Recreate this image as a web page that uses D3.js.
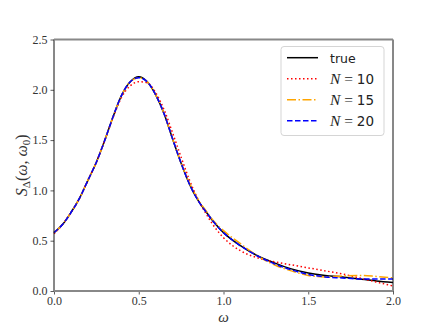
<!DOCTYPE html>
<html>
<head>
<meta charset="utf-8">
<script src="https://cdn.jsdelivr.net/npm/d3@7"></script>
<style>
  body { margin: 0; background: #fff; }
</style>
</head>
<body>
<div id="chart"></div>
<script>
const omega = [0, 0.05, 0.1, 0.15, 0.2, 0.25, 0.3, 0.35, 0.4, 0.45, 0.5, 0.55, 0.6, 0.65, 0.7, 0.75, 0.8, 0.85, 0.9, 0.95,
               1.0, 1.1, 1.2, 1.3, 1.4, 1.5, 1.6, 1.7, 1.8, 1.9, 2.0];
const trueVals = [0.58, 0.66, 0.78, 0.92, 1.10, 1.28, 1.50, 1.74, 1.95, 2.08, 2.13, 2.08, 1.95, 1.76, 1.51, 1.27, 1.06, 0.90, 0.78, 0.67,
                  0.58, 0.45, 0.35, 0.28, 0.22, 0.18, 0.155, 0.14, 0.12, 0.10, 0.085];
const n10Vals = [0.57, 0.66, 0.78, 0.92, 1.10, 1.28, 1.50, 1.73, 1.93, 2.04, 2.08, 2.07, 1.97, 1.80, 1.57, 1.33, 1.10, 0.91, 0.76, 0.63,
                 0.53, 0.40, 0.33, 0.29, 0.26, 0.23, 0.20, 0.17, 0.13, 0.09, 0.05];
const n15Vals = [0.58, 0.66, 0.78, 0.92, 1.10, 1.28, 1.50, 1.74, 1.95, 2.08, 2.12, 2.08, 1.95, 1.76, 1.51, 1.27, 1.07, 0.91, 0.79, 0.68,
                 0.60, 0.47, 0.35, 0.26, 0.20, 0.155, 0.14, 0.15, 0.155, 0.145, 0.13];
const n20Vals = [0.58, 0.66, 0.78, 0.92, 1.10, 1.28, 1.50, 1.74, 1.95, 2.08, 2.12, 2.08, 1.95, 1.76, 1.51, 1.27, 1.06, 0.90, 0.78, 0.67,
                 0.58, 0.45, 0.35, 0.27, 0.21, 0.165, 0.14, 0.13, 0.12, 0.12, 0.12];
const xTicks = [0.0, 0.5, 1.0, 1.5, 2.0];
const yTicks = [0.0, 0.5, 1.0, 1.5, 2.0, 2.5];
const seriesNames = ['true', '10', '15', '20'];

(() => {
    const width = 436, height = 327;
    const mLeft = 54, mRight = 393, mTop = 39.5, mBottom = 291;
    const serif = 'Liberation Serif, DejaVu Serif, serif';

    const svg = d3.select('#chart').append('svg')
        .attr('width', width)
        .attr('height', height);

    const x = d3.scaleLinear().domain([0, 2]).range([mLeft, mRight]);
    const y = d3.scaleLinear().domain([0, 2.5]).range([mBottom, mTop]);

    const series = [
        { name: seriesNames[0], vals: trueVals, color: '#000000', dash: null },
        { name: seriesNames[1], vals: n10Vals, color: '#ff0000', dash: '1.5,2.5' },
        { name: seriesNames[2], vals: n15Vals, color: '#ffa500', dash: '9,2.5,1.5,2.5' },
        { name: seriesNames[3], vals: n20Vals, color: '#0000ff', dash: '5.5,2.5' }
    ];

    const line = d3.line()
        .x(d => x(d[0]))
        .y(d => y(d[1]))
        .curve(d3.curveMonotoneX);

    const plot = svg.append('g');
    series.forEach(s => {
        plot.append('path')
            .datum(omega.map((w, i) => [w, s.vals[i]]))
            .attr('d', line)
            .attr('fill', 'none')
            .attr('stroke', s.color)
            .attr('stroke-width', 1.5)
            .attr('stroke-dasharray', s.dash);
    });

    // axes
    const xAxis = svg.append('g')
        .attr('transform', `translate(0,${mBottom})`)
        .call(d3.axisBottom(x).tickValues(xTicks).tickFormat(d3.format('.1f')).tickSize(3.5).tickPadding(2));
    const yAxis = svg.append('g')
        .attr('transform', `translate(${mLeft},0)`)
        .call(d3.axisLeft(y).tickValues(yTicks).tickFormat(d3.format('.1f')).tickSize(3.5).tickPadding(3));
    [xAxis, yAxis].forEach(a => {
        a.attr('font-family', serif).attr('font-size', 12);
        a.select('.domain').remove();
        a.selectAll('.tick line').attr('stroke', '#333').attr('stroke-width', 0.8);
        a.selectAll('.tick text').attr('fill', '#333');
    });

    // spines
    svg.append('line').attr('x1', mLeft).attr('x2', mLeft).attr('y1', mTop).attr('y2', mBottom)
        .attr('stroke', '#111').attr('stroke-width', 1);
    svg.append('line').attr('x1', mRight).attr('x2', mRight).attr('y1', mTop).attr('y2', mBottom)
        .attr('stroke', '#111').attr('stroke-width', 1);
    svg.append('line').attr('x1', mLeft).attr('x2', mRight).attr('y1', mTop).attr('y2', mTop)
        .attr('stroke', '#888').attr('stroke-width', 1.8);
    svg.append('line').attr('x1', mLeft).attr('x2', mRight).attr('y1', mBottom).attr('y2', mBottom)
        .attr('stroke', '#888').attr('stroke-width', 1.8);

    // axis labels
    svg.append('text')
        .attr('x', (mLeft + mRight) / 2)
        .attr('y', 322)
        .attr('text-anchor', 'middle')
        .attr('font-family', serif)
        .attr('font-style', 'italic')
        .attr('font-size', 15)
        .attr('fill', '#333')
        .text('ω');

    const yl = svg.append('text')
        .attr('transform', `translate(27,${(mTop + mBottom) / 2}) rotate(-90)`)
        .attr('text-anchor', 'middle')
        .attr('font-family', serif)
        .attr('fill', '#333')
        .attr('font-size', 16);
    yl.append('tspan').attr('font-style', 'italic').text('S');
    yl.append('tspan').attr('font-size', 11).attr('dy', 3).text('Δ');
    yl.append('tspan').attr('dy', -3).text('(');
    yl.append('tspan').attr('font-style', 'italic').text('ω');
    yl.append('tspan').text(', ');
    yl.append('tspan').attr('font-style', 'italic').text('ω');
    yl.append('tspan').attr('font-size', 11).attr('dy', 3).text('0');
    yl.append('tspan').attr('dy', -3).text(')');

    // legend
    const lg = svg.append('g');
    lg.append('rect')
        .attr('x', 281).attr('y', 46.5)
        .attr('width', 103).attr('height', 89)
        .attr('rx', 3)
        .attr('fill', '#fff')
        .attr('stroke', '#d5d5d5')
        .attr('stroke-width', 1);
    series.forEach((s, i) => {
        const ry = 57.7 + i * 21;
        lg.append('line')
            .attr('x1', 287).attr('x2', 318)
            .attr('y1', ry).attr('y2', ry)
            .attr('stroke', s.color)
            .attr('stroke-width', 1.5)
            .attr('stroke-dasharray', s.dash);
        const t = lg.append('text')
            .attr('x', 330)
            .attr('y', ry + 5)
            .attr('fill', '#222');
        if (i === 0) {
            t.attr('font-family', 'DejaVu Sans, sans-serif').attr('font-size', 12.5).text(s.name);
        } else {
            t.append('tspan').attr('font-family', serif).attr('font-style', 'italic').attr('font-size', 15.5).text('N');
            t.append('tspan').attr('font-family', serif).attr('font-size', 15.5).text(' = ');
            t.append('tspan').attr('font-family', 'DejaVu Sans, sans-serif').attr('font-size', 13.5).text(s.name);
        }
    });
})();
</script>
</body>
</html>
